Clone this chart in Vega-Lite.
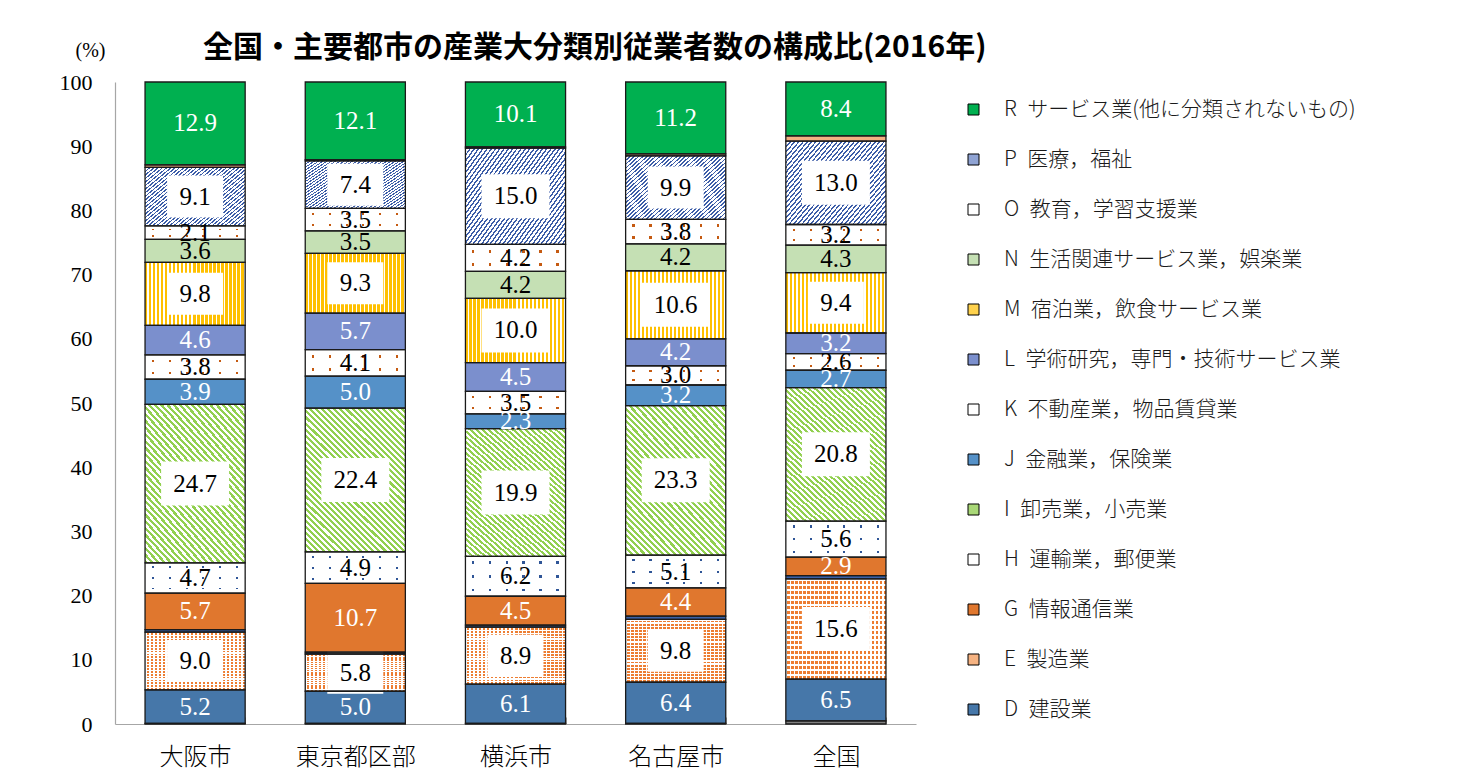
{
  "$schema": "https://vega.github.io/schema/vega-lite/v6.json",
  "width": 801,
  "height": 642,
  "autosize": "none",
  "padding": {"left": 115, "top": 82, "right": 546, "bottom": 44},
  "background": "#ffffff",
  "datasets": {
    "names": [
      {"code": "A", "name": "A～C 農林漁業・鉱業"},
      {"code": "D", "name": "D 建設業"},
      {"code": "E", "name": "E 製造業"},
      {"code": "F", "name": "F 電気・ガス・熱供給・水道業"},
      {"code": "G", "name": "G 情報通信業"},
      {"code": "H", "name": "H 運輸業，郵便業"},
      {"code": "I", "name": "I 卸売業，小売業"},
      {"code": "J", "name": "J 金融業，保険業"},
      {"code": "K", "name": "K 不動産業，物品賃貸業"},
      {"code": "L", "name": "L 学術研究，専門・技術サービス業"},
      {"code": "M", "name": "M 宿泊業，飲食サービス業"},
      {"code": "N", "name": "N 生活関連サービス業，娯楽業"},
      {"code": "O", "name": "O 教育，学習支援業"},
      {"code": "P", "name": "P 医療，福祉"},
      {"code": "Q", "name": "Q 複合サービス事業"},
      {"code": "R", "name": "R サービス業(他に分類されないもの)"}
    ]
  },
  "data": {
    "values": [
      {"city": "大阪市", "code": "A", "value": 0.1},
      {"city": "大阪市", "code": "D", "value": 5.2},
      {"city": "大阪市", "code": "E", "value": 9.0},
      {"city": "大阪市", "code": "F", "value": 0.4},
      {"city": "大阪市", "code": "G", "value": 5.7},
      {"city": "大阪市", "code": "H", "value": 4.7},
      {"city": "大阪市", "code": "I", "value": 24.7},
      {"city": "大阪市", "code": "J", "value": 3.9},
      {"city": "大阪市", "code": "K", "value": 3.8},
      {"city": "大阪市", "code": "L", "value": 4.6},
      {"city": "大阪市", "code": "M", "value": 9.8},
      {"city": "大阪市", "code": "N", "value": 3.6},
      {"city": "大阪市", "code": "O", "value": 2.1},
      {"city": "大阪市", "code": "P", "value": 9.1},
      {"city": "大阪市", "code": "Q", "value": 0.4},
      {"city": "大阪市", "code": "R", "value": 12.9},
      {"city": "東京都区部", "code": "A", "value": 0.1},
      {"city": "東京都区部", "code": "D", "value": 5.0},
      {"city": "東京都区部", "code": "E", "value": 5.8},
      {"city": "東京都区部", "code": "F", "value": 0.3},
      {"city": "東京都区部", "code": "G", "value": 10.7},
      {"city": "東京都区部", "code": "H", "value": 4.9},
      {"city": "東京都区部", "code": "I", "value": 22.4},
      {"city": "東京都区部", "code": "J", "value": 5.0},
      {"city": "東京都区部", "code": "K", "value": 4.1},
      {"city": "東京都区部", "code": "L", "value": 5.7},
      {"city": "東京都区部", "code": "M", "value": 9.3},
      {"city": "東京都区部", "code": "N", "value": 3.5},
      {"city": "東京都区部", "code": "O", "value": 3.5},
      {"city": "東京都区部", "code": "P", "value": 7.4},
      {"city": "東京都区部", "code": "Q", "value": 0.2},
      {"city": "東京都区部", "code": "R", "value": 12.1},
      {"city": "横浜市", "code": "A", "value": 0.1},
      {"city": "横浜市", "code": "D", "value": 6.1},
      {"city": "横浜市", "code": "E", "value": 8.9},
      {"city": "横浜市", "code": "F", "value": 0.3},
      {"city": "横浜市", "code": "G", "value": 4.5},
      {"city": "横浜市", "code": "H", "value": 6.2},
      {"city": "横浜市", "code": "I", "value": 19.9},
      {"city": "横浜市", "code": "J", "value": 2.3},
      {"city": "横浜市", "code": "K", "value": 3.5},
      {"city": "横浜市", "code": "L", "value": 4.5},
      {"city": "横浜市", "code": "M", "value": 10.0},
      {"city": "横浜市", "code": "N", "value": 4.2},
      {"city": "横浜市", "code": "O", "value": 4.2},
      {"city": "横浜市", "code": "P", "value": 15.0},
      {"city": "横浜市", "code": "Q", "value": 0.2},
      {"city": "横浜市", "code": "R", "value": 10.1},
      {"city": "名古屋市", "code": "A", "value": 0.1},
      {"city": "名古屋市", "code": "D", "value": 6.4},
      {"city": "名古屋市", "code": "E", "value": 9.8},
      {"city": "名古屋市", "code": "F", "value": 0.5},
      {"city": "名古屋市", "code": "G", "value": 4.4},
      {"city": "名古屋市", "code": "H", "value": 5.1},
      {"city": "名古屋市", "code": "I", "value": 23.3},
      {"city": "名古屋市", "code": "J", "value": 3.2},
      {"city": "名古屋市", "code": "K", "value": 3.0},
      {"city": "名古屋市", "code": "L", "value": 4.2},
      {"city": "名古屋市", "code": "M", "value": 10.6},
      {"city": "名古屋市", "code": "N", "value": 4.2},
      {"city": "名古屋市", "code": "O", "value": 3.8},
      {"city": "名古屋市", "code": "P", "value": 9.9},
      {"city": "名古屋市", "code": "Q", "value": 0.3},
      {"city": "名古屋市", "code": "R", "value": 11.2},
      {"city": "全国", "code": "A", "value": 0.5},
      {"city": "全国", "code": "D", "value": 6.5},
      {"city": "全国", "code": "E", "value": 15.6},
      {"city": "全国", "code": "F", "value": 0.5},
      {"city": "全国", "code": "G", "value": 2.9},
      {"city": "全国", "code": "H", "value": 5.6},
      {"city": "全国", "code": "I", "value": 20.8},
      {"city": "全国", "code": "J", "value": 2.7},
      {"city": "全国", "code": "K", "value": 2.6},
      {"city": "全国", "code": "L", "value": 3.2},
      {"city": "全国", "code": "M", "value": 9.4},
      {"city": "全国", "code": "N", "value": 4.3},
      {"city": "全国", "code": "O", "value": 3.2},
      {"city": "全国", "code": "P", "value": 13.0},
      {"city": "全国", "code": "Q", "value": 0.8},
      {"city": "全国", "code": "R", "value": 8.4}
    ]
  },
  "transform": [
    {"lookup": "code", "from": {"data": {"name": "names"}, "key": "code", "fields": ["name"]}},
    {"stack": "value", "groupby": ["city"], "sort": [{"field": "code", "order": "ascending"}], "as": ["y0", "y1"]}
  ],
  "title": {
    "text": "全国・主要都市の産業大分類別従業者数の構成比(2016年)",
    "anchor": "start",
    "frame": "group",
    "dx": 88,
    "offset": -53,
    "baseline": "bottom",
    "font": "Noto Sans CJK JP",
    "fontSize": 30,
    "fontWeight": "bold",
    "color": "#000000"
  },
  "encoding": {
    "x": {
      "field": "city",
      "type": "nominal",
      "sort": ["大阪市", "東京都区部", "横浜市", "名古屋市", "全国"],
      "scale": {"paddingInner": 0.375, "paddingOuter": 0.1875},
      "axis": {
        "title": null,
        "labelAngle": 0,
        "labelFont": "Noto Sans CJK JP",
        "labelFontSize": 24,
        "labelFontWeight": 300,
        "labelColor": "#000000",
        "labelPadding": 28,
        "tickBand": "extent",
        "tickSize": -7,
        "tickColor": "#a6a6a6",
        "domainColor": "#a6a6a6",
        "domainWidth": 1.2
      }
    },
    "y": {
      "field": "y0",
      "type": "quantitative",
      "scale": {"domain": [0, 100], "nice": false},
      "axis": {
        "title": "(%)",
        "titleAngle": 0,
        "titleX": -25,
        "titleY": -32,
        "titleAlign": "center",
        "titleBaseline": "middle",
        "titleFont": "Liberation Serif",
        "titleFontSize": 20,
        "titleFontWeight": "normal",
        "titleColor": "#000000",
        "values": [0, 10, 20, 30, 40, 50, 60, 70, 80, 90, 100],
        "labelFont": "Liberation Serif",
        "labelFontSize": 22,
        "labelColor": "#000000",
        "labelPadding": 23,
        "ticks": false,
        "tickSize": 0,
        "grid": false,
        "domainColor": "#a6a6a6",
        "domainWidth": 1.2
      }
    }
  },
  "layer": [
    {
      "mark": {"type": "bar", "strokeWidth": 0},
      "encoding": {
        "y2": {"field": "y1"},
        "color": {
          "field": "name",
          "type": "nominal",
          "scale": {
            "domain": ["R サービス業(他に分類されないもの)", "P 医療，福祉", "O 教育，学習支援業", "N 生活関連サービス業，娯楽業", "M 宿泊業，飲食サービス業", "L 学術研究，専門・技術サービス業", "K 不動産業，物品賃貸業", "J 金融業，保険業", "I 卸売業，小売業", "H 運輸業，郵便業", "G 情報通信業", "E 製造業", "D 建設業", "Q 複合サービス事業", "F 電気・ガス・熱供給・水道業", "A～C 農林漁業・鉱業"],
            "range": ["#00b050", "#8fa3d3", "#ffffff", "#c5e0b4", "#ffd24d", "#7b8fcd", "#ffffff", "#5591c8", "#a9d877", "#ffffff", "#e0772e", "#f6b382", "#4677a9", "#f4b183", "#3a62a8", "#808080"]
          },
          "legend": {
            "values": ["R サービス業(他に分類されないもの)", "P 医療，福祉", "O 教育，学習支援業", "N 生活関連サービス業，娯楽業", "M 宿泊業，飲食サービス業", "L 学術研究，専門・技術サービス業", "K 不動産業，物品賃貸業", "J 金融業，保険業", "I 卸売業，小売業", "H 運輸業，郵便業", "G 情報通信業", "E 製造業", "D 建設業"],
            "orient": "none",
            "legendX": 848,
            "legendY": 17,
            "title": null,
            "padding": 0,
            "symbolType": "square",
            "symbolSize": 121,
            "symbolStrokeColor": "#000000",
            "symbolStrokeWidth": 1,
            "labelFont": "Noto Sans CJK JP",
            "labelFontSize": 21,
            "labelFontWeight": 300,
            "labelColor": "#1a1a1a",
            "labelLimit": 600,
            "labelOffset": 20,
            "rowPadding": 28,
            "labelExpr": "replace(datum.label, ' ', '\u2002')"
          }
        }
      }
    },
    {
      "transform": [{"filter": {"field": "code", "equal": "M"}}],
      "mark": {"type": "bar", "fill": {"gradient": "linear", "x1": 0, "y1": 0, "x2": 1, "y2": 0, "stops": [
        {"offset": 0, "color": "#ffc000"}, {"offset": 0.024, "color": "#ffc000"}, {"offset": 0.024, "color": "#fff"}, {"offset": 0.04, "color": "#fff"},
        {"offset": 0.04, "color": "#ffc000"}, {"offset": 0.064, "color": "#ffc000"}, {"offset": 0.064, "color": "#fff"}, {"offset": 0.08, "color": "#fff"},
        {"offset": 0.08, "color": "#ffc000"}, {"offset": 0.104, "color": "#ffc000"}, {"offset": 0.104, "color": "#fff"}, {"offset": 0.12, "color": "#fff"},
        {"offset": 0.12, "color": "#ffc000"}, {"offset": 0.144, "color": "#ffc000"}, {"offset": 0.144, "color": "#fff"}, {"offset": 0.16, "color": "#fff"},
        {"offset": 0.16, "color": "#ffc000"}, {"offset": 0.184, "color": "#ffc000"}, {"offset": 0.184, "color": "#fff"}, {"offset": 0.2, "color": "#fff"},
        {"offset": 0.2, "color": "#ffc000"}, {"offset": 0.224, "color": "#ffc000"}, {"offset": 0.224, "color": "#fff"}, {"offset": 0.24, "color": "#fff"},
        {"offset": 0.24, "color": "#ffc000"}, {"offset": 0.264, "color": "#ffc000"}, {"offset": 0.264, "color": "#fff"}, {"offset": 0.28, "color": "#fff"},
        {"offset": 0.28, "color": "#ffc000"}, {"offset": 0.304, "color": "#ffc000"}, {"offset": 0.304, "color": "#fff"}, {"offset": 0.32, "color": "#fff"},
        {"offset": 0.32, "color": "#ffc000"}, {"offset": 0.344, "color": "#ffc000"}, {"offset": 0.344, "color": "#fff"}, {"offset": 0.36, "color": "#fff"},
        {"offset": 0.36, "color": "#ffc000"}, {"offset": 0.384, "color": "#ffc000"}, {"offset": 0.384, "color": "#fff"}, {"offset": 0.4, "color": "#fff"},
        {"offset": 0.4, "color": "#ffc000"}, {"offset": 0.424, "color": "#ffc000"}, {"offset": 0.424, "color": "#fff"}, {"offset": 0.44, "color": "#fff"},
        {"offset": 0.44, "color": "#ffc000"}, {"offset": 0.464, "color": "#ffc000"}, {"offset": 0.464, "color": "#fff"}, {"offset": 0.48, "color": "#fff"},
        {"offset": 0.48, "color": "#ffc000"}, {"offset": 0.504, "color": "#ffc000"}, {"offset": 0.504, "color": "#fff"}, {"offset": 0.52, "color": "#fff"},
        {"offset": 0.52, "color": "#ffc000"}, {"offset": 0.544, "color": "#ffc000"}, {"offset": 0.544, "color": "#fff"}, {"offset": 0.56, "color": "#fff"},
        {"offset": 0.56, "color": "#ffc000"}, {"offset": 0.584, "color": "#ffc000"}, {"offset": 0.584, "color": "#fff"}, {"offset": 0.6, "color": "#fff"},
        {"offset": 0.6, "color": "#ffc000"}, {"offset": 0.624, "color": "#ffc000"}, {"offset": 0.624, "color": "#fff"}, {"offset": 0.64, "color": "#fff"},
        {"offset": 0.64, "color": "#ffc000"}, {"offset": 0.664, "color": "#ffc000"}, {"offset": 0.664, "color": "#fff"}, {"offset": 0.68, "color": "#fff"},
        {"offset": 0.68, "color": "#ffc000"}, {"offset": 0.704, "color": "#ffc000"}, {"offset": 0.704, "color": "#fff"}, {"offset": 0.72, "color": "#fff"},
        {"offset": 0.72, "color": "#ffc000"}, {"offset": 0.744, "color": "#ffc000"}, {"offset": 0.744, "color": "#fff"}, {"offset": 0.76, "color": "#fff"},
        {"offset": 0.76, "color": "#ffc000"}, {"offset": 0.784, "color": "#ffc000"}, {"offset": 0.784, "color": "#fff"}, {"offset": 0.8, "color": "#fff"},
        {"offset": 0.8, "color": "#ffc000"}, {"offset": 0.824, "color": "#ffc000"}, {"offset": 0.824, "color": "#fff"}, {"offset": 0.84, "color": "#fff"},
        {"offset": 0.84, "color": "#ffc000"}, {"offset": 0.864, "color": "#ffc000"}, {"offset": 0.864, "color": "#fff"}, {"offset": 0.88, "color": "#fff"},
        {"offset": 0.88, "color": "#ffc000"}, {"offset": 0.904, "color": "#ffc000"}, {"offset": 0.904, "color": "#fff"}, {"offset": 0.92, "color": "#fff"},
        {"offset": 0.92, "color": "#ffc000"}, {"offset": 0.944, "color": "#ffc000"}, {"offset": 0.944, "color": "#fff"}, {"offset": 0.96, "color": "#fff"},
        {"offset": 0.96, "color": "#ffc000"}, {"offset": 0.984, "color": "#ffc000"}, {"offset": 0.984, "color": "#fff"}, {"offset": 1, "color": "#fff"}
      ]}},
      "encoding": {"y2": {"field": "y1"}}
    },
    {
      "transform": [{"filter": {"field": "code", "equal": "I"}}],
      "mark": {"type": "bar", "fill": {"gradient": "linear", "x1": 0, "y1": 1, "x2": 0.79, "y2": -0.145, "stops": [
        {"offset": 0, "color": "#92d050"}, {"offset": 0.0125, "color": "#92d050"}, {"offset": 0.0125, "color": "#fff"}, {"offset": 0.025, "color": "#fff"},
        {"offset": 0.025, "color": "#92d050"}, {"offset": 0.0375, "color": "#92d050"}, {"offset": 0.0375, "color": "#fff"}, {"offset": 0.05, "color": "#fff"},
        {"offset": 0.05, "color": "#92d050"}, {"offset": 0.0625, "color": "#92d050"}, {"offset": 0.0625, "color": "#fff"}, {"offset": 0.075, "color": "#fff"},
        {"offset": 0.075, "color": "#92d050"}, {"offset": 0.0875, "color": "#92d050"}, {"offset": 0.0875, "color": "#fff"}, {"offset": 0.1, "color": "#fff"},
        {"offset": 0.1, "color": "#92d050"}, {"offset": 0.1125, "color": "#92d050"}, {"offset": 0.1125, "color": "#fff"}, {"offset": 0.125, "color": "#fff"},
        {"offset": 0.125, "color": "#92d050"}, {"offset": 0.1375, "color": "#92d050"}, {"offset": 0.1375, "color": "#fff"}, {"offset": 0.15, "color": "#fff"},
        {"offset": 0.15, "color": "#92d050"}, {"offset": 0.1625, "color": "#92d050"}, {"offset": 0.1625, "color": "#fff"}, {"offset": 0.175, "color": "#fff"},
        {"offset": 0.175, "color": "#92d050"}, {"offset": 0.1875, "color": "#92d050"}, {"offset": 0.1875, "color": "#fff"}, {"offset": 0.2, "color": "#fff"},
        {"offset": 0.2, "color": "#92d050"}, {"offset": 0.2125, "color": "#92d050"}, {"offset": 0.2125, "color": "#fff"}, {"offset": 0.225, "color": "#fff"},
        {"offset": 0.225, "color": "#92d050"}, {"offset": 0.2375, "color": "#92d050"}, {"offset": 0.2375, "color": "#fff"}, {"offset": 0.25, "color": "#fff"},
        {"offset": 0.25, "color": "#92d050"}, {"offset": 0.2625, "color": "#92d050"}, {"offset": 0.2625, "color": "#fff"}, {"offset": 0.275, "color": "#fff"},
        {"offset": 0.275, "color": "#92d050"}, {"offset": 0.2875, "color": "#92d050"}, {"offset": 0.2875, "color": "#fff"}, {"offset": 0.3, "color": "#fff"},
        {"offset": 0.3, "color": "#92d050"}, {"offset": 0.3125, "color": "#92d050"}, {"offset": 0.3125, "color": "#fff"}, {"offset": 0.325, "color": "#fff"},
        {"offset": 0.325, "color": "#92d050"}, {"offset": 0.3375, "color": "#92d050"}, {"offset": 0.3375, "color": "#fff"}, {"offset": 0.35, "color": "#fff"},
        {"offset": 0.35, "color": "#92d050"}, {"offset": 0.3625, "color": "#92d050"}, {"offset": 0.3625, "color": "#fff"}, {"offset": 0.375, "color": "#fff"},
        {"offset": 0.375, "color": "#92d050"}, {"offset": 0.3875, "color": "#92d050"}, {"offset": 0.3875, "color": "#fff"}, {"offset": 0.4, "color": "#fff"},
        {"offset": 0.4, "color": "#92d050"}, {"offset": 0.4125, "color": "#92d050"}, {"offset": 0.4125, "color": "#fff"}, {"offset": 0.425, "color": "#fff"},
        {"offset": 0.425, "color": "#92d050"}, {"offset": 0.4375, "color": "#92d050"}, {"offset": 0.4375, "color": "#fff"}, {"offset": 0.45, "color": "#fff"},
        {"offset": 0.45, "color": "#92d050"}, {"offset": 0.4625, "color": "#92d050"}, {"offset": 0.4625, "color": "#fff"}, {"offset": 0.475, "color": "#fff"},
        {"offset": 0.475, "color": "#92d050"}, {"offset": 0.4875, "color": "#92d050"}, {"offset": 0.4875, "color": "#fff"}, {"offset": 0.5, "color": "#fff"},
        {"offset": 0.5, "color": "#92d050"}, {"offset": 0.5125, "color": "#92d050"}, {"offset": 0.5125, "color": "#fff"}, {"offset": 0.525, "color": "#fff"},
        {"offset": 0.525, "color": "#92d050"}, {"offset": 0.5375, "color": "#92d050"}, {"offset": 0.5375, "color": "#fff"}, {"offset": 0.55, "color": "#fff"},
        {"offset": 0.55, "color": "#92d050"}, {"offset": 0.5625, "color": "#92d050"}, {"offset": 0.5625, "color": "#fff"}, {"offset": 0.575, "color": "#fff"},
        {"offset": 0.575, "color": "#92d050"}, {"offset": 0.5875, "color": "#92d050"}, {"offset": 0.5875, "color": "#fff"}, {"offset": 0.6, "color": "#fff"},
        {"offset": 0.6, "color": "#92d050"}, {"offset": 0.6125, "color": "#92d050"}, {"offset": 0.6125, "color": "#fff"}, {"offset": 0.625, "color": "#fff"},
        {"offset": 0.625, "color": "#92d050"}, {"offset": 0.6375, "color": "#92d050"}, {"offset": 0.6375, "color": "#fff"}, {"offset": 0.65, "color": "#fff"},
        {"offset": 0.65, "color": "#92d050"}, {"offset": 0.6625, "color": "#92d050"}, {"offset": 0.6625, "color": "#fff"}, {"offset": 0.675, "color": "#fff"},
        {"offset": 0.675, "color": "#92d050"}, {"offset": 0.6875, "color": "#92d050"}, {"offset": 0.6875, "color": "#fff"}, {"offset": 0.7, "color": "#fff"},
        {"offset": 0.7, "color": "#92d050"}, {"offset": 0.7125, "color": "#92d050"}, {"offset": 0.7125, "color": "#fff"}, {"offset": 0.725, "color": "#fff"},
        {"offset": 0.725, "color": "#92d050"}, {"offset": 0.7375, "color": "#92d050"}, {"offset": 0.7375, "color": "#fff"}, {"offset": 0.75, "color": "#fff"},
        {"offset": 0.75, "color": "#92d050"}, {"offset": 0.7625, "color": "#92d050"}, {"offset": 0.7625, "color": "#fff"}, {"offset": 0.775, "color": "#fff"},
        {"offset": 0.775, "color": "#92d050"}, {"offset": 0.7875, "color": "#92d050"}, {"offset": 0.7875, "color": "#fff"}, {"offset": 0.8, "color": "#fff"},
        {"offset": 0.8, "color": "#92d050"}, {"offset": 0.8125, "color": "#92d050"}, {"offset": 0.8125, "color": "#fff"}, {"offset": 0.825, "color": "#fff"},
        {"offset": 0.825, "color": "#92d050"}, {"offset": 0.8375, "color": "#92d050"}, {"offset": 0.8375, "color": "#fff"}, {"offset": 0.85, "color": "#fff"},
        {"offset": 0.85, "color": "#92d050"}, {"offset": 0.8625, "color": "#92d050"}, {"offset": 0.8625, "color": "#fff"}, {"offset": 0.875, "color": "#fff"},
        {"offset": 0.875, "color": "#92d050"}, {"offset": 0.8875, "color": "#92d050"}, {"offset": 0.8875, "color": "#fff"}, {"offset": 0.9, "color": "#fff"},
        {"offset": 0.9, "color": "#92d050"}, {"offset": 0.9125, "color": "#92d050"}, {"offset": 0.9125, "color": "#fff"}, {"offset": 0.925, "color": "#fff"},
        {"offset": 0.925, "color": "#92d050"}, {"offset": 0.9375, "color": "#92d050"}, {"offset": 0.9375, "color": "#fff"}, {"offset": 0.95, "color": "#fff"},
        {"offset": 0.95, "color": "#92d050"}, {"offset": 0.9625, "color": "#92d050"}, {"offset": 0.9625, "color": "#fff"}, {"offset": 0.975, "color": "#fff"},
        {"offset": 0.975, "color": "#92d050"}, {"offset": 0.9875, "color": "#92d050"}, {"offset": 0.9875, "color": "#fff"}, {"offset": 1, "color": "#fff"}
      ]}},
      "encoding": {"y2": {"field": "y1"}}
    },
    {
      "transform": [{"filter": {"field": "code", "equal": "P"}}],
      "mark": {"type": "bar", "fill": {"gradient": "linear", "x1": 0, "y1": 0, "x2": 1.141, "y2": 0.799, "stops": [
        {"offset": 0, "color": "#3c5da8"}, {"offset": 0.01, "color": "#3c5da8"}, {"offset": 0.01, "color": "#fff"}, {"offset": 0.025, "color": "#fff"},
        {"offset": 0.025, "color": "#3c5da8"}, {"offset": 0.035, "color": "#3c5da8"}, {"offset": 0.035, "color": "#fff"}, {"offset": 0.05, "color": "#fff"},
        {"offset": 0.05, "color": "#3c5da8"}, {"offset": 0.06, "color": "#3c5da8"}, {"offset": 0.06, "color": "#fff"}, {"offset": 0.075, "color": "#fff"},
        {"offset": 0.075, "color": "#3c5da8"}, {"offset": 0.085, "color": "#3c5da8"}, {"offset": 0.085, "color": "#fff"}, {"offset": 0.1, "color": "#fff"},
        {"offset": 0.1, "color": "#3c5da8"}, {"offset": 0.11, "color": "#3c5da8"}, {"offset": 0.11, "color": "#fff"}, {"offset": 0.125, "color": "#fff"},
        {"offset": 0.125, "color": "#3c5da8"}, {"offset": 0.135, "color": "#3c5da8"}, {"offset": 0.135, "color": "#fff"}, {"offset": 0.15, "color": "#fff"},
        {"offset": 0.15, "color": "#3c5da8"}, {"offset": 0.16, "color": "#3c5da8"}, {"offset": 0.16, "color": "#fff"}, {"offset": 0.175, "color": "#fff"},
        {"offset": 0.175, "color": "#3c5da8"}, {"offset": 0.185, "color": "#3c5da8"}, {"offset": 0.185, "color": "#fff"}, {"offset": 0.2, "color": "#fff"},
        {"offset": 0.2, "color": "#3c5da8"}, {"offset": 0.21, "color": "#3c5da8"}, {"offset": 0.21, "color": "#fff"}, {"offset": 0.225, "color": "#fff"},
        {"offset": 0.225, "color": "#3c5da8"}, {"offset": 0.235, "color": "#3c5da8"}, {"offset": 0.235, "color": "#fff"}, {"offset": 0.25, "color": "#fff"},
        {"offset": 0.25, "color": "#3c5da8"}, {"offset": 0.26, "color": "#3c5da8"}, {"offset": 0.26, "color": "#fff"}, {"offset": 0.275, "color": "#fff"},
        {"offset": 0.275, "color": "#3c5da8"}, {"offset": 0.285, "color": "#3c5da8"}, {"offset": 0.285, "color": "#fff"}, {"offset": 0.3, "color": "#fff"},
        {"offset": 0.3, "color": "#3c5da8"}, {"offset": 0.31, "color": "#3c5da8"}, {"offset": 0.31, "color": "#fff"}, {"offset": 0.325, "color": "#fff"},
        {"offset": 0.325, "color": "#3c5da8"}, {"offset": 0.335, "color": "#3c5da8"}, {"offset": 0.335, "color": "#fff"}, {"offset": 0.35, "color": "#fff"},
        {"offset": 0.35, "color": "#3c5da8"}, {"offset": 0.36, "color": "#3c5da8"}, {"offset": 0.36, "color": "#fff"}, {"offset": 0.375, "color": "#fff"},
        {"offset": 0.375, "color": "#3c5da8"}, {"offset": 0.385, "color": "#3c5da8"}, {"offset": 0.385, "color": "#fff"}, {"offset": 0.4, "color": "#fff"},
        {"offset": 0.4, "color": "#3c5da8"}, {"offset": 0.41, "color": "#3c5da8"}, {"offset": 0.41, "color": "#fff"}, {"offset": 0.425, "color": "#fff"},
        {"offset": 0.425, "color": "#3c5da8"}, {"offset": 0.435, "color": "#3c5da8"}, {"offset": 0.435, "color": "#fff"}, {"offset": 0.45, "color": "#fff"},
        {"offset": 0.45, "color": "#3c5da8"}, {"offset": 0.46, "color": "#3c5da8"}, {"offset": 0.46, "color": "#fff"}, {"offset": 0.475, "color": "#fff"},
        {"offset": 0.475, "color": "#3c5da8"}, {"offset": 0.485, "color": "#3c5da8"}, {"offset": 0.485, "color": "#fff"}, {"offset": 0.5, "color": "#fff"},
        {"offset": 0.5, "color": "#3c5da8"}, {"offset": 0.51, "color": "#3c5da8"}, {"offset": 0.51, "color": "#fff"}, {"offset": 0.525, "color": "#fff"},
        {"offset": 0.525, "color": "#3c5da8"}, {"offset": 0.535, "color": "#3c5da8"}, {"offset": 0.535, "color": "#fff"}, {"offset": 0.55, "color": "#fff"},
        {"offset": 0.55, "color": "#3c5da8"}, {"offset": 0.56, "color": "#3c5da8"}, {"offset": 0.56, "color": "#fff"}, {"offset": 0.575, "color": "#fff"},
        {"offset": 0.575, "color": "#3c5da8"}, {"offset": 0.585, "color": "#3c5da8"}, {"offset": 0.585, "color": "#fff"}, {"offset": 0.6, "color": "#fff"},
        {"offset": 0.6, "color": "#3c5da8"}, {"offset": 0.61, "color": "#3c5da8"}, {"offset": 0.61, "color": "#fff"}, {"offset": 0.625, "color": "#fff"},
        {"offset": 0.625, "color": "#3c5da8"}, {"offset": 0.635, "color": "#3c5da8"}, {"offset": 0.635, "color": "#fff"}, {"offset": 0.65, "color": "#fff"},
        {"offset": 0.65, "color": "#3c5da8"}, {"offset": 0.66, "color": "#3c5da8"}, {"offset": 0.66, "color": "#fff"}, {"offset": 0.675, "color": "#fff"},
        {"offset": 0.675, "color": "#3c5da8"}, {"offset": 0.685, "color": "#3c5da8"}, {"offset": 0.685, "color": "#fff"}, {"offset": 0.7, "color": "#fff"},
        {"offset": 0.7, "color": "#3c5da8"}, {"offset": 0.71, "color": "#3c5da8"}, {"offset": 0.71, "color": "#fff"}, {"offset": 0.725, "color": "#fff"},
        {"offset": 0.725, "color": "#3c5da8"}, {"offset": 0.735, "color": "#3c5da8"}, {"offset": 0.735, "color": "#fff"}, {"offset": 0.75, "color": "#fff"},
        {"offset": 0.75, "color": "#3c5da8"}, {"offset": 0.76, "color": "#3c5da8"}, {"offset": 0.76, "color": "#fff"}, {"offset": 0.775, "color": "#fff"},
        {"offset": 0.775, "color": "#3c5da8"}, {"offset": 0.785, "color": "#3c5da8"}, {"offset": 0.785, "color": "#fff"}, {"offset": 0.8, "color": "#fff"},
        {"offset": 0.8, "color": "#3c5da8"}, {"offset": 0.81, "color": "#3c5da8"}, {"offset": 0.81, "color": "#fff"}, {"offset": 0.825, "color": "#fff"},
        {"offset": 0.825, "color": "#3c5da8"}, {"offset": 0.835, "color": "#3c5da8"}, {"offset": 0.835, "color": "#fff"}, {"offset": 0.85, "color": "#fff"},
        {"offset": 0.85, "color": "#3c5da8"}, {"offset": 0.86, "color": "#3c5da8"}, {"offset": 0.86, "color": "#fff"}, {"offset": 0.875, "color": "#fff"},
        {"offset": 0.875, "color": "#3c5da8"}, {"offset": 0.885, "color": "#3c5da8"}, {"offset": 0.885, "color": "#fff"}, {"offset": 0.9, "color": "#fff"},
        {"offset": 0.9, "color": "#3c5da8"}, {"offset": 0.91, "color": "#3c5da8"}, {"offset": 0.91, "color": "#fff"}, {"offset": 0.925, "color": "#fff"},
        {"offset": 0.925, "color": "#3c5da8"}, {"offset": 0.935, "color": "#3c5da8"}, {"offset": 0.935, "color": "#fff"}, {"offset": 0.95, "color": "#fff"},
        {"offset": 0.95, "color": "#3c5da8"}, {"offset": 0.96, "color": "#3c5da8"}, {"offset": 0.96, "color": "#fff"}, {"offset": 0.975, "color": "#fff"},
        {"offset": 0.975, "color": "#3c5da8"}, {"offset": 0.985, "color": "#3c5da8"}, {"offset": 0.985, "color": "#fff"}, {"offset": 1, "color": "#fff"}
      ]}},
      "encoding": {"y2": {"field": "y1"}}
    },
    {
      "transform": [{"filter": {"field": "code", "equal": "E"}}],
      "mark": {"type": "bar", "fill": {"gradient": "linear", "x1": 0, "y1": 0, "x2": 0, "y2": 1, "stops": [
        {"offset": 0, "color": "#fff"}, {"offset": 0.02, "color": "#fff"}, {"offset": 0.02, "color": "#ed7d31"}, {"offset": 0.05, "color": "#ed7d31"},
        {"offset": 0.05, "color": "#fff"}, {"offset": 0.07, "color": "#fff"}, {"offset": 0.07, "color": "#ed7d31"}, {"offset": 0.1, "color": "#ed7d31"},
        {"offset": 0.1, "color": "#fff"}, {"offset": 0.12, "color": "#fff"}, {"offset": 0.12, "color": "#ed7d31"}, {"offset": 0.15, "color": "#ed7d31"},
        {"offset": 0.15, "color": "#fff"}, {"offset": 0.17, "color": "#fff"}, {"offset": 0.17, "color": "#ed7d31"}, {"offset": 0.2, "color": "#ed7d31"},
        {"offset": 0.2, "color": "#fff"}, {"offset": 0.22, "color": "#fff"}, {"offset": 0.22, "color": "#ed7d31"}, {"offset": 0.25, "color": "#ed7d31"},
        {"offset": 0.25, "color": "#fff"}, {"offset": 0.27, "color": "#fff"}, {"offset": 0.27, "color": "#ed7d31"}, {"offset": 0.3, "color": "#ed7d31"},
        {"offset": 0.3, "color": "#fff"}, {"offset": 0.32, "color": "#fff"}, {"offset": 0.32, "color": "#ed7d31"}, {"offset": 0.35, "color": "#ed7d31"},
        {"offset": 0.35, "color": "#fff"}, {"offset": 0.37, "color": "#fff"}, {"offset": 0.37, "color": "#ed7d31"}, {"offset": 0.4, "color": "#ed7d31"},
        {"offset": 0.4, "color": "#fff"}, {"offset": 0.42, "color": "#fff"}, {"offset": 0.42, "color": "#ed7d31"}, {"offset": 0.45, "color": "#ed7d31"},
        {"offset": 0.45, "color": "#fff"}, {"offset": 0.47, "color": "#fff"}, {"offset": 0.47, "color": "#ed7d31"}, {"offset": 0.5, "color": "#ed7d31"},
        {"offset": 0.5, "color": "#fff"}, {"offset": 0.52, "color": "#fff"}, {"offset": 0.52, "color": "#ed7d31"}, {"offset": 0.55, "color": "#ed7d31"},
        {"offset": 0.55, "color": "#fff"}, {"offset": 0.57, "color": "#fff"}, {"offset": 0.57, "color": "#ed7d31"}, {"offset": 0.6, "color": "#ed7d31"},
        {"offset": 0.6, "color": "#fff"}, {"offset": 0.62, "color": "#fff"}, {"offset": 0.62, "color": "#ed7d31"}, {"offset": 0.65, "color": "#ed7d31"},
        {"offset": 0.65, "color": "#fff"}, {"offset": 0.67, "color": "#fff"}, {"offset": 0.67, "color": "#ed7d31"}, {"offset": 0.7, "color": "#ed7d31"},
        {"offset": 0.7, "color": "#fff"}, {"offset": 0.72, "color": "#fff"}, {"offset": 0.72, "color": "#ed7d31"}, {"offset": 0.75, "color": "#ed7d31"},
        {"offset": 0.75, "color": "#fff"}, {"offset": 0.77, "color": "#fff"}, {"offset": 0.77, "color": "#ed7d31"}, {"offset": 0.8, "color": "#ed7d31"},
        {"offset": 0.8, "color": "#fff"}, {"offset": 0.82, "color": "#fff"}, {"offset": 0.82, "color": "#ed7d31"}, {"offset": 0.85, "color": "#ed7d31"},
        {"offset": 0.85, "color": "#fff"}, {"offset": 0.87, "color": "#fff"}, {"offset": 0.87, "color": "#ed7d31"}, {"offset": 0.9, "color": "#ed7d31"},
        {"offset": 0.9, "color": "#fff"}, {"offset": 0.92, "color": "#fff"}, {"offset": 0.92, "color": "#ed7d31"}, {"offset": 0.95, "color": "#ed7d31"},
        {"offset": 0.95, "color": "#fff"}, {"offset": 0.97, "color": "#fff"}, {"offset": 0.97, "color": "#ed7d31"}, {"offset": 1, "color": "#ed7d31"}
      ]}},
      "encoding": {"y2": {"field": "y1"}}
    },
    {
      "transform": [{"filter": {"field": "code", "equal": "E"}}],
      "mark": {"type": "bar", "fill": {"gradient": "linear", "x1": 0, "y1": 0, "x2": 1, "y2": 0, "stops": [
        {"offset": 0, "color": "#fff"}, {"offset": 0.016, "color": "#fff"}, {"offset": 0.016, "color": "rgba(255,255,255,0)"}, {"offset": 0.04, "color": "rgba(255,255,255,0)"},
        {"offset": 0.04, "color": "#fff"}, {"offset": 0.056, "color": "#fff"}, {"offset": 0.056, "color": "rgba(255,255,255,0)"}, {"offset": 0.08, "color": "rgba(255,255,255,0)"},
        {"offset": 0.08, "color": "#fff"}, {"offset": 0.096, "color": "#fff"}, {"offset": 0.096, "color": "rgba(255,255,255,0)"}, {"offset": 0.12, "color": "rgba(255,255,255,0)"},
        {"offset": 0.12, "color": "#fff"}, {"offset": 0.136, "color": "#fff"}, {"offset": 0.136, "color": "rgba(255,255,255,0)"}, {"offset": 0.16, "color": "rgba(255,255,255,0)"},
        {"offset": 0.16, "color": "#fff"}, {"offset": 0.176, "color": "#fff"}, {"offset": 0.176, "color": "rgba(255,255,255,0)"}, {"offset": 0.2, "color": "rgba(255,255,255,0)"},
        {"offset": 0.2, "color": "#fff"}, {"offset": 0.216, "color": "#fff"}, {"offset": 0.216, "color": "rgba(255,255,255,0)"}, {"offset": 0.24, "color": "rgba(255,255,255,0)"},
        {"offset": 0.24, "color": "#fff"}, {"offset": 0.256, "color": "#fff"}, {"offset": 0.256, "color": "rgba(255,255,255,0)"}, {"offset": 0.28, "color": "rgba(255,255,255,0)"},
        {"offset": 0.28, "color": "#fff"}, {"offset": 0.296, "color": "#fff"}, {"offset": 0.296, "color": "rgba(255,255,255,0)"}, {"offset": 0.32, "color": "rgba(255,255,255,0)"},
        {"offset": 0.32, "color": "#fff"}, {"offset": 0.336, "color": "#fff"}, {"offset": 0.336, "color": "rgba(255,255,255,0)"}, {"offset": 0.36, "color": "rgba(255,255,255,0)"},
        {"offset": 0.36, "color": "#fff"}, {"offset": 0.376, "color": "#fff"}, {"offset": 0.376, "color": "rgba(255,255,255,0)"}, {"offset": 0.4, "color": "rgba(255,255,255,0)"},
        {"offset": 0.4, "color": "#fff"}, {"offset": 0.416, "color": "#fff"}, {"offset": 0.416, "color": "rgba(255,255,255,0)"}, {"offset": 0.44, "color": "rgba(255,255,255,0)"},
        {"offset": 0.44, "color": "#fff"}, {"offset": 0.456, "color": "#fff"}, {"offset": 0.456, "color": "rgba(255,255,255,0)"}, {"offset": 0.48, "color": "rgba(255,255,255,0)"},
        {"offset": 0.48, "color": "#fff"}, {"offset": 0.496, "color": "#fff"}, {"offset": 0.496, "color": "rgba(255,255,255,0)"}, {"offset": 0.52, "color": "rgba(255,255,255,0)"},
        {"offset": 0.52, "color": "#fff"}, {"offset": 0.536, "color": "#fff"}, {"offset": 0.536, "color": "rgba(255,255,255,0)"}, {"offset": 0.56, "color": "rgba(255,255,255,0)"},
        {"offset": 0.56, "color": "#fff"}, {"offset": 0.576, "color": "#fff"}, {"offset": 0.576, "color": "rgba(255,255,255,0)"}, {"offset": 0.6, "color": "rgba(255,255,255,0)"},
        {"offset": 0.6, "color": "#fff"}, {"offset": 0.616, "color": "#fff"}, {"offset": 0.616, "color": "rgba(255,255,255,0)"}, {"offset": 0.64, "color": "rgba(255,255,255,0)"},
        {"offset": 0.64, "color": "#fff"}, {"offset": 0.656, "color": "#fff"}, {"offset": 0.656, "color": "rgba(255,255,255,0)"}, {"offset": 0.68, "color": "rgba(255,255,255,0)"},
        {"offset": 0.68, "color": "#fff"}, {"offset": 0.696, "color": "#fff"}, {"offset": 0.696, "color": "rgba(255,255,255,0)"}, {"offset": 0.72, "color": "rgba(255,255,255,0)"},
        {"offset": 0.72, "color": "#fff"}, {"offset": 0.736, "color": "#fff"}, {"offset": 0.736, "color": "rgba(255,255,255,0)"}, {"offset": 0.76, "color": "rgba(255,255,255,0)"},
        {"offset": 0.76, "color": "#fff"}, {"offset": 0.776, "color": "#fff"}, {"offset": 0.776, "color": "rgba(255,255,255,0)"}, {"offset": 0.8, "color": "rgba(255,255,255,0)"},
        {"offset": 0.8, "color": "#fff"}, {"offset": 0.816, "color": "#fff"}, {"offset": 0.816, "color": "rgba(255,255,255,0)"}, {"offset": 0.84, "color": "rgba(255,255,255,0)"},
        {"offset": 0.84, "color": "#fff"}, {"offset": 0.856, "color": "#fff"}, {"offset": 0.856, "color": "rgba(255,255,255,0)"}, {"offset": 0.88, "color": "rgba(255,255,255,0)"},
        {"offset": 0.88, "color": "#fff"}, {"offset": 0.896, "color": "#fff"}, {"offset": 0.896, "color": "rgba(255,255,255,0)"}, {"offset": 0.92, "color": "rgba(255,255,255,0)"},
        {"offset": 0.92, "color": "#fff"}, {"offset": 0.936, "color": "#fff"}, {"offset": 0.936, "color": "rgba(255,255,255,0)"}, {"offset": 0.96, "color": "rgba(255,255,255,0)"},
        {"offset": 0.96, "color": "#fff"}, {"offset": 0.976, "color": "#fff"}, {"offset": 0.976, "color": "rgba(255,255,255,0)"}, {"offset": 1, "color": "rgba(255,255,255,0)"}
      ]}},
      "encoding": {"y2": {"field": "y1"}}
    },
    {
      "transform": [{"filter": {"field": "code", "oneOf": ["K", "O"]}}],
      "mark": {"type": "bar", "fill": {"gradient": "linear", "x1": 0, "y1": 0, "x2": 0, "y2": 1, "stops": [
        {"offset": 0, "color": "#fff"}, {"offset": 0.2, "color": "#fff"}, {"offset": 0.2, "color": "#c55a11"}, {"offset": 0.3, "color": "#c55a11"},
        {"offset": 0.3, "color": "#fff"}, {"offset": 0.7, "color": "#fff"}, {"offset": 0.7, "color": "#c55a11"}, {"offset": 0.8, "color": "#c55a11"},
        {"offset": 0.8, "color": "#fff"}, {"offset": 1, "color": "#fff"}
      ]}},
      "encoding": {"y2": {"field": "y1"}}
    },
    {
      "transform": [{"filter": {"field": "code", "equal": "H"}}],
      "mark": {"type": "bar", "fill": {"gradient": "linear", "x1": 0, "y1": 0, "x2": 0, "y2": 1, "stops": [
        {"offset": 0, "color": "#fff"}, {"offset": 0.12, "color": "#fff"}, {"offset": 0.12, "color": "#2f5597"}, {"offset": 0.18, "color": "#2f5597"},
        {"offset": 0.18, "color": "#fff"}, {"offset": 0.47, "color": "#fff"}, {"offset": 0.47, "color": "#2f5597"}, {"offset": 0.53, "color": "#2f5597"},
        {"offset": 0.53, "color": "#fff"}, {"offset": 0.82, "color": "#fff"}, {"offset": 0.82, "color": "#2f5597"}, {"offset": 0.88, "color": "#2f5597"},
        {"offset": 0.88, "color": "#fff"}, {"offset": 1, "color": "#fff"}
      ]}},
      "encoding": {"y2": {"field": "y1"}}
    },
    {
      "transform": [{"filter": {"field": "code", "oneOf": ["H", "K", "O"]}}],
      "mark": {"type": "bar", "fill": {"gradient": "linear", "x1": 0, "y1": 0, "x2": 1, "y2": 0, "stops": [
        {"offset": 0, "color": "#fff"}, {"offset": 0.068, "color": "#fff"}, {"offset": 0.068, "color": "rgba(255,255,255,0)"}, {"offset": 0.09, "color": "rgba(255,255,255,0)"},
        {"offset": 0.09, "color": "#fff"}, {"offset": 0.238, "color": "#fff"}, {"offset": 0.238, "color": "rgba(255,255,255,0)"}, {"offset": 0.26, "color": "rgba(255,255,255,0)"},
        {"offset": 0.26, "color": "#fff"}, {"offset": 0.408, "color": "#fff"}, {"offset": 0.408, "color": "rgba(255,255,255,0)"}, {"offset": 0.43, "color": "rgba(255,255,255,0)"},
        {"offset": 0.43, "color": "#fff"}, {"offset": 0.568, "color": "#fff"}, {"offset": 0.568, "color": "rgba(255,255,255,0)"}, {"offset": 0.59, "color": "rgba(255,255,255,0)"},
        {"offset": 0.59, "color": "#fff"}, {"offset": 0.738, "color": "#fff"}, {"offset": 0.738, "color": "rgba(255,255,255,0)"}, {"offset": 0.76, "color": "rgba(255,255,255,0)"},
        {"offset": 0.76, "color": "#fff"}, {"offset": 0.908, "color": "#fff"}, {"offset": 0.908, "color": "rgba(255,255,255,0)"}, {"offset": 0.93, "color": "rgba(255,255,255,0)"},
        {"offset": 0.93, "color": "#fff"}, {"offset": 1, "color": "#fff"}
      ]}},
      "encoding": {"y2": {"field": "y1"}}
    },
    {
      "transform": [
        {"filter": {"field": "code", "oneOf": ["E", "I", "M", "P"]}},
        {"filter": {"field": "value", "lt": 10}},
        {"fold": ["y0", "y1"], "as": ["edge", "ypos"]},
        {"aggregate": [{"op": "mean", "field": "ypos", "as": "ymid"}], "groupby": ["city", "code"]}
      ],
      "mark": {"type": "point", "shape": "M-1,-0.75L1,-0.75L1,0.75L-1,0.75Z", "size": 3136, "filled": true, "fill": "#ffffff", "opacity": 1, "strokeWidth": 0},
      "encoding": {"y": {"field": "ymid", "type": "quantitative"}}
    },
    {
      "transform": [
        {"filter": {"field": "code", "oneOf": ["E", "I", "M", "P"]}},
        {"filter": {"field": "value", "gte": 10}},
        {"fold": ["y0", "y1"], "as": ["edge", "ypos"]},
        {"aggregate": [{"op": "mean", "field": "ypos", "as": "ymid"}], "groupby": ["city", "code"]}
      ],
      "mark": {"type": "point", "shape": "M-1,-0.647L1,-0.647L1,0.647L-1,0.647Z", "size": 4624, "filled": true, "fill": "#ffffff", "opacity": 1, "strokeWidth": 0},
      "encoding": {"y": {"field": "ymid", "type": "quantitative"}}
    },
    {
      "mark": {"type": "bar", "fill": "transparent", "stroke": "#1a1a1a", "strokeWidth": 1.3},
      "encoding": {"y2": {"field": "y1"}}
    },
    {
      "transform": [
        {"filter": {"field": "code", "oneOf": ["D", "G", "J", "L", "R"]}},
        {"fold": ["y0", "y1"], "as": ["edge", "ypos"]},
        {"aggregate": [{"op": "mean", "field": "ypos", "as": "ymid"}, {"op": "mean", "field": "value", "as": "value"}], "groupby": ["city", "code"]}
      ],
      "mark": {"type": "text", "font": "Liberation Serif", "fontSize": 25, "fill": "#ffffff", "baseline": "middle", "align": "center"},
      "encoding": {
        "y": {"field": "ymid", "type": "quantitative"},
        "text": {"field": "value", "type": "quantitative", "format": ".1f"}
      }
    },
    {
      "transform": [
        {"filter": {"field": "code", "oneOf": ["E", "H", "I", "K", "M", "N", "O", "P"]}},
        {"fold": ["y0", "y1"], "as": ["edge", "ypos"]},
        {"aggregate": [{"op": "mean", "field": "ypos", "as": "ymid"}, {"op": "mean", "field": "value", "as": "value"}], "groupby": ["city", "code"]}
      ],
      "mark": {"type": "text", "font": "Liberation Serif", "fontSize": 25, "fill": "#000000", "baseline": "middle", "align": "center"},
      "encoding": {
        "y": {"field": "ymid", "type": "quantitative"},
        "text": {"field": "value", "type": "quantitative", "format": ".1f"}
      }
    }
  ],
  "config": {
    "view": {"stroke": null},
    "font": "Noto Sans CJK JP"
  }
}
